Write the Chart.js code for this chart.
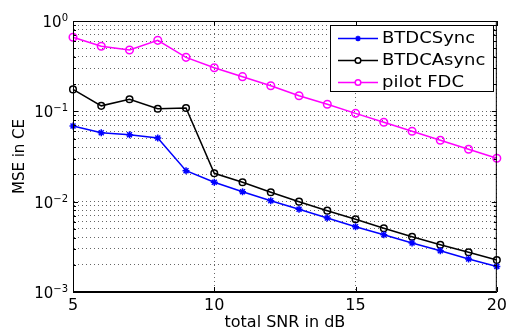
<!DOCTYPE html>
<html>
<head>
<meta charset="utf-8">
<script src="https://cdn.jsdelivr.net/npm/chart.js@4/dist/chart.umd.min.js"></script>
<style>
    html, body { margin: 0; padding: 0; background: #fff; }
</style>
</head>
<body>
<canvas id="mse-chart" width="511" height="332"></canvas>
<script>
// x軸: total SNR [dB]
const snrDb = [5, 6, 7, 8, 9, 10, 11, 12, 13, 14, 15, 16, 17, 18, 19, 20];

// 各方式のMSE
const btdcSync  = [0.0688, 0.058, 0.0551, 0.0507, 0.022, 0.0164, 0.0129, 0.01025, 0.00823, 0.00659, 0.00528, 0.00431, 0.00349, 0.00286, 0.00232, 0.00192];
const btdcAsync = [0.175, 0.115, 0.136, 0.107, 0.109, 0.0206, 0.0164, 0.0127, 0.0100, 0.00795, 0.00638, 0.00507, 0.00409, 0.00334, 0.00275, 0.00226];
const pilotFdc  = [0.66, 0.525, 0.477, 0.611, 0.396, 0.304, 0.242, 0.192, 0.149, 0.120, 0.095, 0.0757, 0.0601, 0.0478, 0.038, 0.0302];

const seriesNames = ['BTDCSync', 'BTDCAsync', 'pilot FDC'];

// 目盛り
const xTickValues = [5, 10, 15, 20];
const yDecades = [0.001, 0.01, 0.1, 1];
const yDecadeExponents = ['−3', '−2', '−1', '0']; // 10^n の n
const yMantissas = [1, 2, 3, 4, 5, 6, 7, 8, 9];

const FONT = '"DejaVu Sans", "Liberation Sans", Arial, sans-serif';

function toPoints(values) {
    return snrDb.map((x, i) => ({ x: x, y: values[i] }));
}

// 対数軸の全目盛り（1〜9 × 10^n）
const yTickValues = [];
yDecades.slice(0, -1).forEach(d => {
    yMantissas.forEach(m => yTickValues.push(+(m * d).toPrecision(3)));
});
yTickValues.push(yDecades[yDecades.length - 1]);

// 枠線・内向きの目盛り線・y軸ラベル(10^n)・凡例を描くプラグイン
const matlabFrame = {
    id: 'matlabFrame',
    afterDraw(chart) {
        const ctx = chart.ctx;
        const area = chart.chartArea;
        const xs = chart.scales.x;
        const ys = chart.scales.y;
        ctx.save();
        ctx.strokeStyle = '#000';
        ctx.lineWidth = 1;
        ctx.strokeRect(area.left + 0.5, area.top + 0.5, area.right - area.left - 1, area.bottom - area.top - 1);

        ctx.beginPath();
        yTickValues.forEach(v => {
            const y = Math.round(ys.getPixelForValue(v)) + 0.5;
            const len = yDecades.includes(v) ? 5 : 3;
            ctx.moveTo(area.left, y); ctx.lineTo(area.left + len, y);
            ctx.moveTo(area.right, y); ctx.lineTo(area.right - len, y);
        });
        xTickValues.forEach(v => {
            const x = Math.round(xs.getPixelForValue(v)) + 0.5;
            ctx.moveTo(x, area.bottom); ctx.lineTo(x, area.bottom - 5);
            ctx.moveTo(x, area.top); ctx.lineTo(x, area.top + 5);
        });
        ctx.stroke();

        // y軸ラベル 10^n（指数は上付き）
        ctx.fillStyle = '#000';
        ctx.textBaseline = 'alphabetic';
        yDecades.forEach((d, i) => {
            const y = ys.getPixelForValue(d);
            const right = area.left - 5;
            ctx.font = '10px ' + FONT;
            const expW = ctx.measureText(yDecadeExponents[i]).width;
            ctx.textAlign = 'left';
            ctx.fillText(yDecadeExponents[i], right - expW, y);
            ctx.font = '15px ' + FONT;
            ctx.textAlign = 'right';
            ctx.fillText('10', right - expW, y + 6);
        });

        // 凡例
        const box = { left: 330, top: 25, width: 164, height: 67 };
        ctx.fillStyle = '#fff';
        ctx.fillRect(box.left, box.top, box.width, box.height);
        ctx.strokeRect(box.left + 0.5, box.top + 0.5, box.width - 1, box.height - 1);
        const rowY = [38.5, 60.5, 82.5];
        chart.data.datasets.forEach((ds, i) => {
            const y = rowY[i];
            ctx.strokeStyle = ds.borderColor;
            ctx.lineWidth = ds.borderWidth;
            ctx.beginPath();
            ctx.moveTo(338, y); ctx.lineTo(378, y);
            ctx.stroke();
            Chart.helpers.drawPoint(ctx, {
                pointStyle: ds.pointStyle,
                radius: 2.8,
                borderWidth: ds.pointBorderWidth,
                rotation: 0
            }, 358, y);
            ctx.save();
            ctx.fillStyle = '#000';
            ctx.font = '15px ' + FONT;
            ctx.textAlign = 'left';
            ctx.textBaseline = 'middle';
            ctx.translate(382, y);
            ctx.scale(1.2, 1);
            ctx.fillText(ds.label, 0, 1);
            ctx.restore();
        });
        ctx.restore();
    }
};

function makeDataset(label, values, color, style, radius) {
    return {
        label: label,
        data: toPoints(values),
        borderColor: color,
        borderWidth: 1.5,
        pointStyle: style,
        pointRadius: radius,
        pointBorderColor: color,
        pointBackgroundColor: 'rgba(0,0,0,0)',
        pointBorderWidth: 1.5,
        clip: false,
        tension: 0
    };
}

const ctx = document.getElementById('mse-chart').getContext('2d');
const chart = new Chart(ctx, {
    type: 'line',
    data: {
        datasets: [
            makeDataset(seriesNames[0], btdcSync, '#0000ff', 'star', 3.5),
            makeDataset(seriesNames[1], btdcAsync, '#000000', 'circle', 3.3),
            makeDataset(seriesNames[2], pilotFdc, '#ff00ff', 'circle', 3.8)
        ]
    },
    options: {
        responsive: false,
        animation: false,
        events: [],
        layout: { padding: { top: 21, right: 13, left: 0, bottom: 0 } },
        plugins: {
            legend: { display: false },
            tooltip: { enabled: false }
        },
        scales: {
            x: {
                type: 'linear',
                min: 5,
                max: 20,
                afterBuildTicks: s => { s.ticks = xTickValues.map(v => ({ value: v })); },
                afterFit: s => { s.height = 40; },
                grid: { color: 'rgba(0,0,0,0.6)', lineWidth: 1, drawTicks: false },
                border: { display: true, color: '#000', width: 1, dash: [1, 3] },
                ticks: { color: '#000', font: { family: FONT, size: 16 }, padding: 4, maxRotation: 0 },
                title: {
                    display: true,
                    text: 'total SNR in dB',
                    color: '#000',
                    font: { family: FONT, size: 16 },
                    padding: { top: 0, bottom: 0 }
                }
            },
            y: {
                type: 'logarithmic',
                min: 0.001,
                max: 1,
                afterBuildTicks: s => { s.ticks = yTickValues.map(v => ({ value: v })); },
                afterFit: s => { s.width = 73; },
                grid: { color: 'rgba(0,0,0,0.6)', lineWidth: 1, drawTicks: false },
                border: { display: true, color: '#000', width: 1, dash: [1, 3] },
                ticks: { display: false, autoSkip: false },
                title: {
                    display: true,
                    text: 'MSE in CE',
                    color: '#000',
                    font: { family: FONT, size: 15 },
                    padding: { top: 11, bottom: 0 }
                }
            }
        }
    },
    plugins: [matlabFrame]
});
</script>
</body>
</html>
